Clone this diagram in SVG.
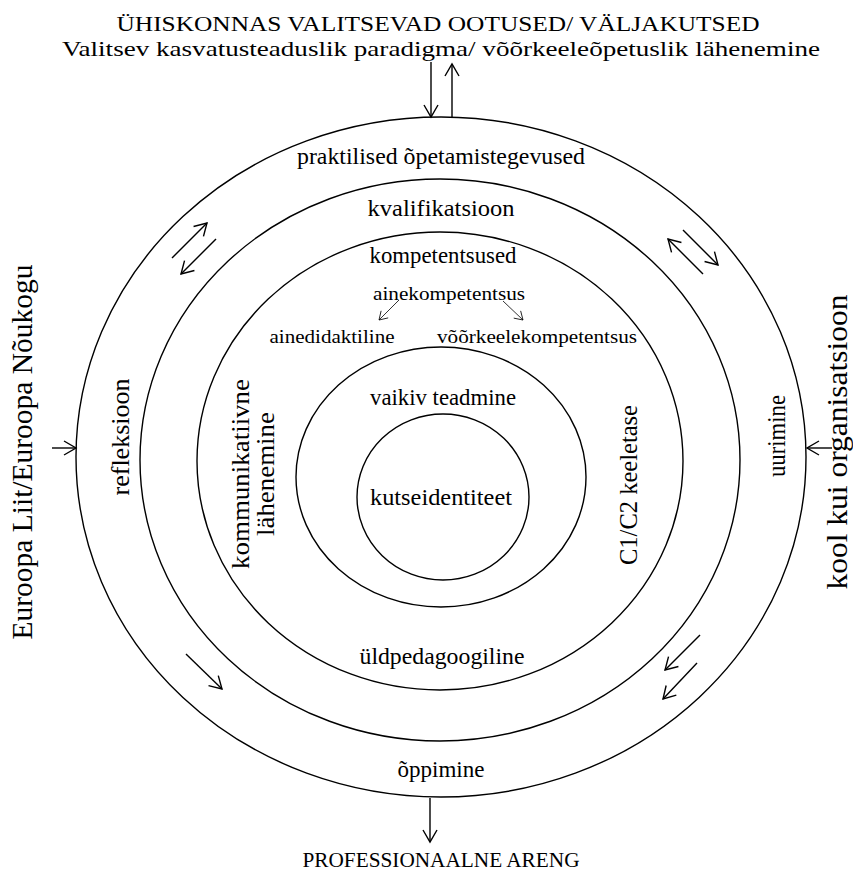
<svg xmlns="http://www.w3.org/2000/svg" width="853" height="879" viewBox="0 0 853 879">
<style>
text{font-family:"Liberation Serif","Times New Roman",serif;fill:#000;}
.c{fill:none;stroke:#000;stroke-width:1.4;}
.a{fill:none;stroke:#000;stroke-width:1.4;marker-end:url(#ah);}
.s{fill:none;stroke:#000;stroke-width:0.8;marker-end:url(#ahs);}
.m{font-size:23px;text-anchor:middle;}
.t{font-size:22px;text-anchor:middle;}
.v{font-size:25px;text-anchor:middle;}
.sm{font-size:19px;text-anchor:middle;}
</style>
<defs>
<marker id="ah" markerUnits="userSpaceOnUse" markerWidth="30" markerHeight="30" refX="15" refY="15" orient="auto" viewBox="0 0 30 30">
<path d="M3,8 L15,15 L3,22" fill="none" stroke="#000" stroke-width="1.4"/>
</marker>
<marker id="ahs" markerUnits="userSpaceOnUse" markerWidth="20" markerHeight="20" refX="10" refY="10" orient="auto" viewBox="0 0 20 20">
<path d="M2,5 L10,10 L2,15" fill="none" stroke="#000" stroke-width="0.8"/>
</marker>
</defs>
<g id="ring-outer"><ellipse class="c" cx="441" cy="457" rx="365" ry="340"/>
<text class="m" x="441" y="164" textLength="288" lengthAdjust="spacingAndGlyphs">praktilised õpetamistegevused</text>
<text class="m" x="441" y="777" textLength="87" lengthAdjust="spacingAndGlyphs">õppimine</text>
<text class="v" transform="translate(129,437) rotate(-90)" textLength="117" lengthAdjust="spacingAndGlyphs">refleksioon</text>
<text class="v" transform="translate(785,436) rotate(-90)" textLength="82" lengthAdjust="spacingAndGlyphs">uurimine</text>
</g>
<g id="ring-2"><ellipse class="c" cx="440" cy="460" rx="300" ry="281"/>
<text class="m" x="441" y="216" textLength="147" lengthAdjust="spacingAndGlyphs">kvalifikatsioon</text>
</g>
<g id="ring-3"><ellipse class="c" cx="440" cy="461" rx="243" ry="229"/>
<text class="m" x="443" y="263" textLength="147" lengthAdjust="spacingAndGlyphs">kompetentsused</text>
<text class="sm" x="449" y="300" textLength="152" lengthAdjust="spacingAndGlyphs">ainekompetentsus</text>
<text class="sm" x="332" y="343" textLength="125" lengthAdjust="spacingAndGlyphs">ainedidaktiline</text>
<text class="sm" x="537" y="343" textLength="200" lengthAdjust="spacingAndGlyphs">võõrkeelekompetentsus</text>
<text class="m" x="442" y="664" textLength="165" lengthAdjust="spacingAndGlyphs">üldpedagoogiline</text>
<text class="v" transform="translate(249,474) rotate(-90)" textLength="190" lengthAdjust="spacingAndGlyphs">kommunikatiivne</text>
<text class="v" transform="translate(274,474) rotate(-90)" textLength="124" lengthAdjust="spacingAndGlyphs">lähenemine</text>
<text class="v" transform="translate(637,485) rotate(-90)" textLength="160" lengthAdjust="spacingAndGlyphs">C1/C2 keeletase</text>
</g>
<g id="ring-4"><ellipse class="c" cx="441" cy="477" rx="145" ry="130"/>
<text class="m" x="443" y="405" textLength="146" lengthAdjust="spacingAndGlyphs">vaikiv teadmine</text>
</g>
<g id="core"><ellipse class="c" cx="443" cy="497" rx="86" ry="83"/>
<text class="m" x="441" y="505" textLength="142" lengthAdjust="spacingAndGlyphs">kutseidentiteet</text>
</g>
<g id="top-labels">
<text class="t" x="438" y="31" textLength="643" lengthAdjust="spacingAndGlyphs">ÜHISKONNAS VALITSEVAD OOTUSED/ VÄLJAKUTSED</text>
<text class="t" x="441" y="56" textLength="758" lengthAdjust="spacingAndGlyphs">Valitsev kasvatusteaduslik paradigma/ võõrkeeleõpetuslik lähenemine</text>
</g>
<g id="bottom-label">
<text class="t" x="441" y="867" textLength="277" lengthAdjust="spacingAndGlyphs">PROFESSIONAALNE ARENG</text>
</g>
<g id="left-label"><text style="font-size:29px;text-anchor:middle" transform="translate(32,452) rotate(-90)" textLength="375" lengthAdjust="spacingAndGlyphs">Euroopa Liit/Euroopa Nõukogu</text></g>
<g id="right-label"><text style="font-size:30px;text-anchor:middle" transform="translate(847,442) rotate(-90)" textLength="295" lengthAdjust="spacingAndGlyphs">kool kui organisatsioon</text></g>
<g id="connectors">
<line class="a" x1="431" y1="62" x2="431" y2="117"/>
<line class="a" x1="452" y1="117" x2="452" y2="64"/>
<line class="a" x1="52" y1="448" x2="76" y2="448"/>
<line class="a" x1="832" y1="448" x2="807" y2="448"/>
<line class="a" x1="430" y1="798" x2="430" y2="842"/>
<line class="a" x1="172" y1="258" x2="207" y2="223"/>
<line class="a" x1="216" y1="239" x2="181" y2="274"/>
<line class="a" x1="703" y1="274" x2="668" y2="239"/>
<line class="a" x1="683" y1="230" x2="718" y2="265"/>
<line class="a" x1="186" y1="654" x2="222" y2="689"/>
<line class="a" x1="700" y1="635" x2="665" y2="670"/>
<line class="a" x1="697" y1="663" x2="663" y2="699"/>
<line class="s" x1="399" y1="300" x2="379" y2="320"/>
<line class="s" x1="503" y1="301" x2="523" y2="320"/>
</g>
</svg>
